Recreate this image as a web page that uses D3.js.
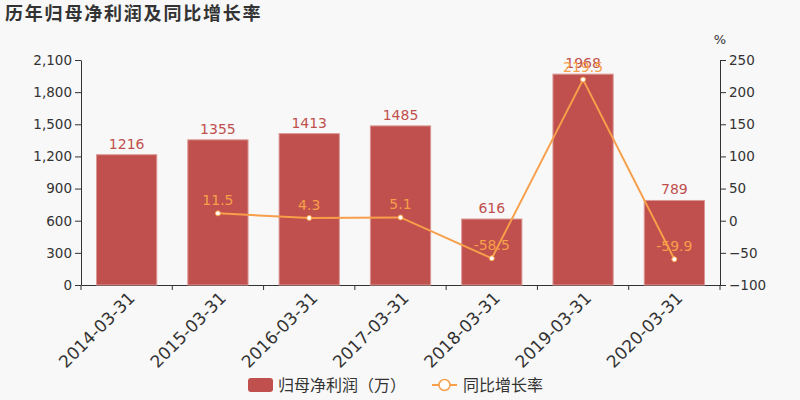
<!DOCTYPE html>
<html>
<head>
<meta charset="utf-8">
<script src="https://cdn.jsdelivr.net/npm/d3@7"></script>
<style>
  body { margin: 0; background: #f8f8f8; }
  svg text { font-family: "DejaVu Sans", "Noto Sans CJK SC", sans-serif; }
</style>
</head>
<body>
<svg></svg>
<script>
const WIDTH = 800;
const HEIGHT = 400;

const categories = ["2014-03-31", "2015-03-31", "2016-03-31", "2017-03-31", "2018-03-31", "2019-03-31", "2020-03-31"];
const profit = [1216, 1355, 1413, 1485, 616, 1968, 789];
const growth = [null, 11.5, 4.3, 5.1, -58.5, 219.5, -59.9];
const leftTicks = [0, 300, 600, 900, 1200, 1500, 1800, 2100];
const rightTicks = [-100, -50, 0, 50, 100, 150, 200, 250];

const barColor = "#c0504d";
const lineColor = "#f79f4a";
const textColor = "#333";

const plotL = 81, plotR = 720, plotT = 60, plotB = 285;

var svg = d3.select("svg").attr("width", WIDTH).attr("height", HEIGHT);

svg.append("text")
  .attr("x", 5).attr("y", 20)
  .attr("font-size", 18).attr("font-weight", "bold")
  .attr("fill", textColor).attr("letter-spacing", 1.8)
  .text("历年归母净利润及同比增长率");

var x = d3.scaleBand().domain(categories).range([plotL, plotR]).paddingInner(0.34).paddingOuter(0.17);
var xb = d3.scaleBand().domain(categories).range([plotL, plotR]);
var yL = d3.scaleLinear().domain([0, 2100]).range([plotB, plotT]);
var yR = d3.scaleLinear().domain([-100, 250]).range([plotB, plotT]);

// axes
var axL = svg.append("g").attr("transform", `translate(${plotL},0)`)
  .call(d3.axisLeft(yL).tickValues(leftTicks).tickFormat(d3.format(",")).tickSizeOuter(0));
var axR = svg.append("g").attr("transform", `translate(${plotR},0)`)
  .call(d3.axisRight(yR).tickValues(rightTicks).tickSizeOuter(0));
var axX = svg.append("g").attr("transform", `translate(0,${plotB})`)
  .call(d3.axisBottom(xb).tickSize(0).tickSizeOuter(0));

// category boundary ticks
axX.selectAll(".bound").data(categories.concat([null])).enter()
  .append("line")
  .attr("x1", (d, i) => plotL + xb.step() * i)
  .attr("x2", (d, i) => plotL + xb.step() * i)
  .attr("y1", 0).attr("y2", 5)
  .attr("stroke", textColor);

axX.selectAll(".tick text")
  .attr("font-size", 17)
  .attr("fill", textColor)
  .attr("text-anchor", "end")
  .attr("transform", "rotate(-45)")
  .attr("dx", "-0.2em").attr("dy", "0.8em");

[axL, axR].forEach(a => {
  a.selectAll(".tick text").attr("font-size", 13.5).attr("fill", textColor);
  a.selectAll(".tick line").attr("stroke", textColor);
});
[axL, axR, axX].forEach(a => a.select(".domain").attr("stroke", textColor));

svg.append("text")
  .attr("x", plotR).attr("y", 44)
  .attr("font-size", 13).attr("fill", textColor).attr("text-anchor", "middle")
  .text("%");

// bars
svg.selectAll("rect.bar").data(profit).enter()
  .append("rect")
  .attr("class", "bar")
  .attr("x", (d, i) => x(categories[i]))
  .attr("y", d => yL(d))
  .attr("width", x.bandwidth())
  .attr("height", d => yL(0) - yL(d))
  .attr("fill", barColor)
  .attr("stroke", "#dc9896")
  .attr("stroke-width", 1);

svg.selectAll("text.barlabel").data(profit).enter()
  .append("text")
  .attr("class", "barlabel")
  .attr("x", (d, i) => xb(categories[i]) + xb.bandwidth() / 2)
  .attr("y", d => yL(d) - 6)
  .attr("text-anchor", "middle")
  .attr("font-size", 14)
  .attr("fill", barColor)
  .text(d => d);

// growth line
var pts = growth.map((d, i) => ({ c: categories[i], v: d })).filter(d => d.v !== null);
var cx = d => xb(d.c) + xb.bandwidth() / 2;

svg.append("path")
  .datum(pts)
  .attr("fill", "none")
  .attr("stroke", lineColor)
  .attr("stroke-width", 2)
  .attr("d", d3.line().x(cx).y(d => yR(d.v)));

svg.selectAll("circle.pt").data(pts).enter()
  .append("circle")
  .attr("class", "pt")
  .attr("cx", cx)
  .attr("cy", d => yR(d.v))
  .attr("r", 2.5)
  .attr("fill", "#fff")
  .attr("stroke", lineColor)
  .attr("stroke-width", 1);

svg.selectAll("text.ptlabel").data(pts).enter()
  .append("text")
  .attr("class", "ptlabel")
  .attr("x", cx)
  .attr("y", d => yR(d.v) - 8)
  .attr("text-anchor", "middle")
  .attr("font-size", 14)
  .attr("fill", lineColor)
  .text(d => d.v);

// legend
var lg = svg.append("g");
lg.append("rect")
  .attr("x", 248).attr("y", 378).attr("width", 25).attr("height", 14).attr("rx", 3)
  .attr("fill", barColor);
lg.append("text")
  .attr("x", 278).attr("y", 391)
  .attr("font-size", 16).attr("fill", textColor)
  .text("归母净利润（万）");
lg.append("line")
  .attr("x1", 432).attr("x2", 457).attr("y1", 385).attr("y2", 385)
  .attr("stroke", lineColor).attr("stroke-width", 2);
lg.append("circle")
  .attr("cx", 444.5).attr("cy", 385).attr("r", 5.5)
  .attr("fill", "#fff").attr("stroke", lineColor).attr("stroke-width", 1.5);
lg.append("text")
  .attr("x", 463).attr("y", 391)
  .attr("font-size", 16).attr("fill", textColor)
  .text("同比增长率");
</script>
</body>
</html>
